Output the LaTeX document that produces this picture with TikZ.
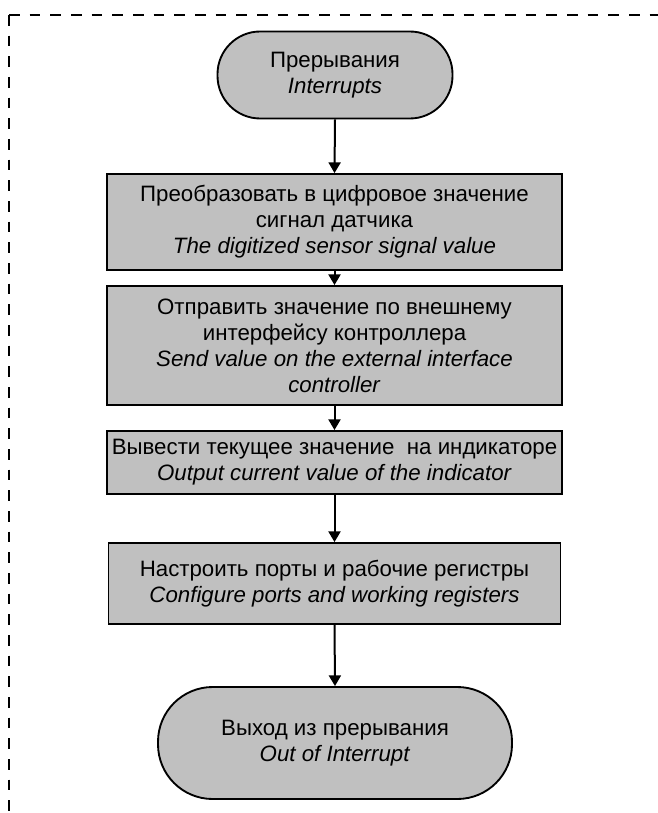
\documentclass[tikz,border=0pt]{standalone}
\usepackage{fontspec}
\setmainfont{Liberation Sans}
\usetikzlibrary{arrows.meta}
\begin{document}
\begin{tikzpicture}[x=0.75pt,y=-0.75pt,
  blk/.style={draw=black,line width=1.4pt,fill=boxgray,align=center,
    font=\fontsize{16.7}{19.5}\selectfont,inner sep=0pt},
  term/.style={blk,rounded corners=#1},
  arr/.style={line width=1.5pt,-{Triangle[width=9pt,length=8pt]}},
  frame/.style={line width=1.5pt,dash pattern=on 8pt off 7.5pt}]
\definecolor{boxgray}{HTML}{C0C0C0}
\useasboundingbox (0,0) rectangle (657,813);
\draw[frame] (9,15) -- (670,15);
\draw[frame] (9,15) -- (9,830);
\node[term=32pt,minimum width=235*0.75pt,minimum height=87*0.75pt] (t1) at (335,75)
  {Прерывания\\\textit{Interrupts}};
\node[blk,minimum width=455*0.75pt,minimum height=96*0.75pt] (b1) at (334.5,222)
  {Преобразовать в цифровое значение\\сигнал датчика\\\textit{The digitized sensor signal value}};
\node[blk,minimum width=455*0.75pt,minimum height=119*0.75pt] (b2) at (334.5,345.5)
  {Отправить значение по внешнему\\интерфейсу контроллера\\\textit{Send value on the external interface}\\\textit{controller}};
\node[blk,minimum width=455*0.75pt,minimum height=63*0.75pt] (b3) at (334.5,462.5)
  {Вывести текущее значение\ \ на индикаторе\\\textit{Output current value of the indicator}};
\node[blk,minimum width=452*0.75pt,minimum height=81*0.75pt] (b4) at (334.5,583.5)
  {Настроить порты и рабочие регистры\\\textit{Configure ports and working registers}};
\node[term=41pt,minimum width=354*0.75pt,minimum height=112*0.75pt] (t2) at (335,743)
  {Выход из прерывания\\\textit{Out of Interrupt}};
\draw[arr] (t1.south) -- (b1.north);
\draw[arr] (b1.south) -- (b2.north);
\draw[arr] (b2.south) -- (b3.north);
\draw[arr] (b3.south) -- (b4.north);
\draw[arr] (b4.south) -- (t2.north);
\end{tikzpicture}
\end{document}
